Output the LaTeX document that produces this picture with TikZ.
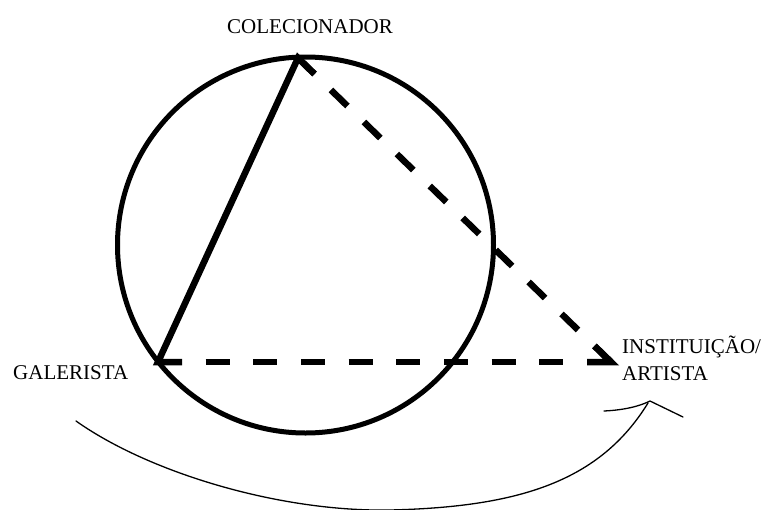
\documentclass[tikz,border=0pt]{standalone}
\usepackage{fontspec}
\setmainfont{Liberation Serif}
\usetikzlibrary{calc}
\begin{document}
\begin{tikzpicture}[x=1pt,y=-1pt,
  lbl/.style={inner sep=0pt,anchor=base west,font=\fontsize{21}{27}\selectfont},
  thick line/.style={line width=6.5pt,line cap=butt,line join=miter},
  diag dash/.style={thick line,dash pattern=on 23pt off 22.92pt},
  hor dash/.style={thick line,dash pattern=on 24pt off 23.67pt},
  thin curve/.style={line width=1.3pt,line cap=round}]
\useasboundingbox (0,0) rectangle (774,509);
\clip (0,0) rectangle (774,509);
\node[draw,circle,line width=5pt,minimum size=376pt,inner sep=0pt] (circ) at (305.5,245) {};
\coordinate (C) at (298,58);
\coordinate (G) at (158,362);
\coordinate (I) at (611,362);
\node[lbl] (col) at (227,33) {COLECIONADOR};
\node[lbl] (gal) at (13,379) {GALERISTA};
\node[lbl] (ins) at (622,353) {INSTITUIÇÃO/};
\node[lbl] (art) at (622,380) {ARTISTA};
% dashed sides
\draw[diag dash] (C) -- (I);
\draw[hor dash] (G) -- (I);
% solid side with sharp corners
\draw[thick line] ($(G)!24pt!(I)$) -- (G) -- (C) -- ($(C)!23pt!(I)$);
\draw[thick line] ($(I)!23pt!(C)$) -- (I) -- ($(I)!24pt!(G)$);
% curved arrow
\coordinate (s) at (76,421);
\coordinate (m) at (390,510);
\coordinate (e) at (648,403);
\draw[thin curve] (s) .. controls (149.5,473) and (280,512) .. (m)
  .. controls (520,507) and (600,481) .. (e);
\coordinate (wl) at (604,411);
\coordinate (wr) at (683,417);
\draw[thin curve,line join=miter] (wl) .. controls (625,410) and (640,406) .. (650,401) -- (wr);
\end{tikzpicture}
\end{document}
